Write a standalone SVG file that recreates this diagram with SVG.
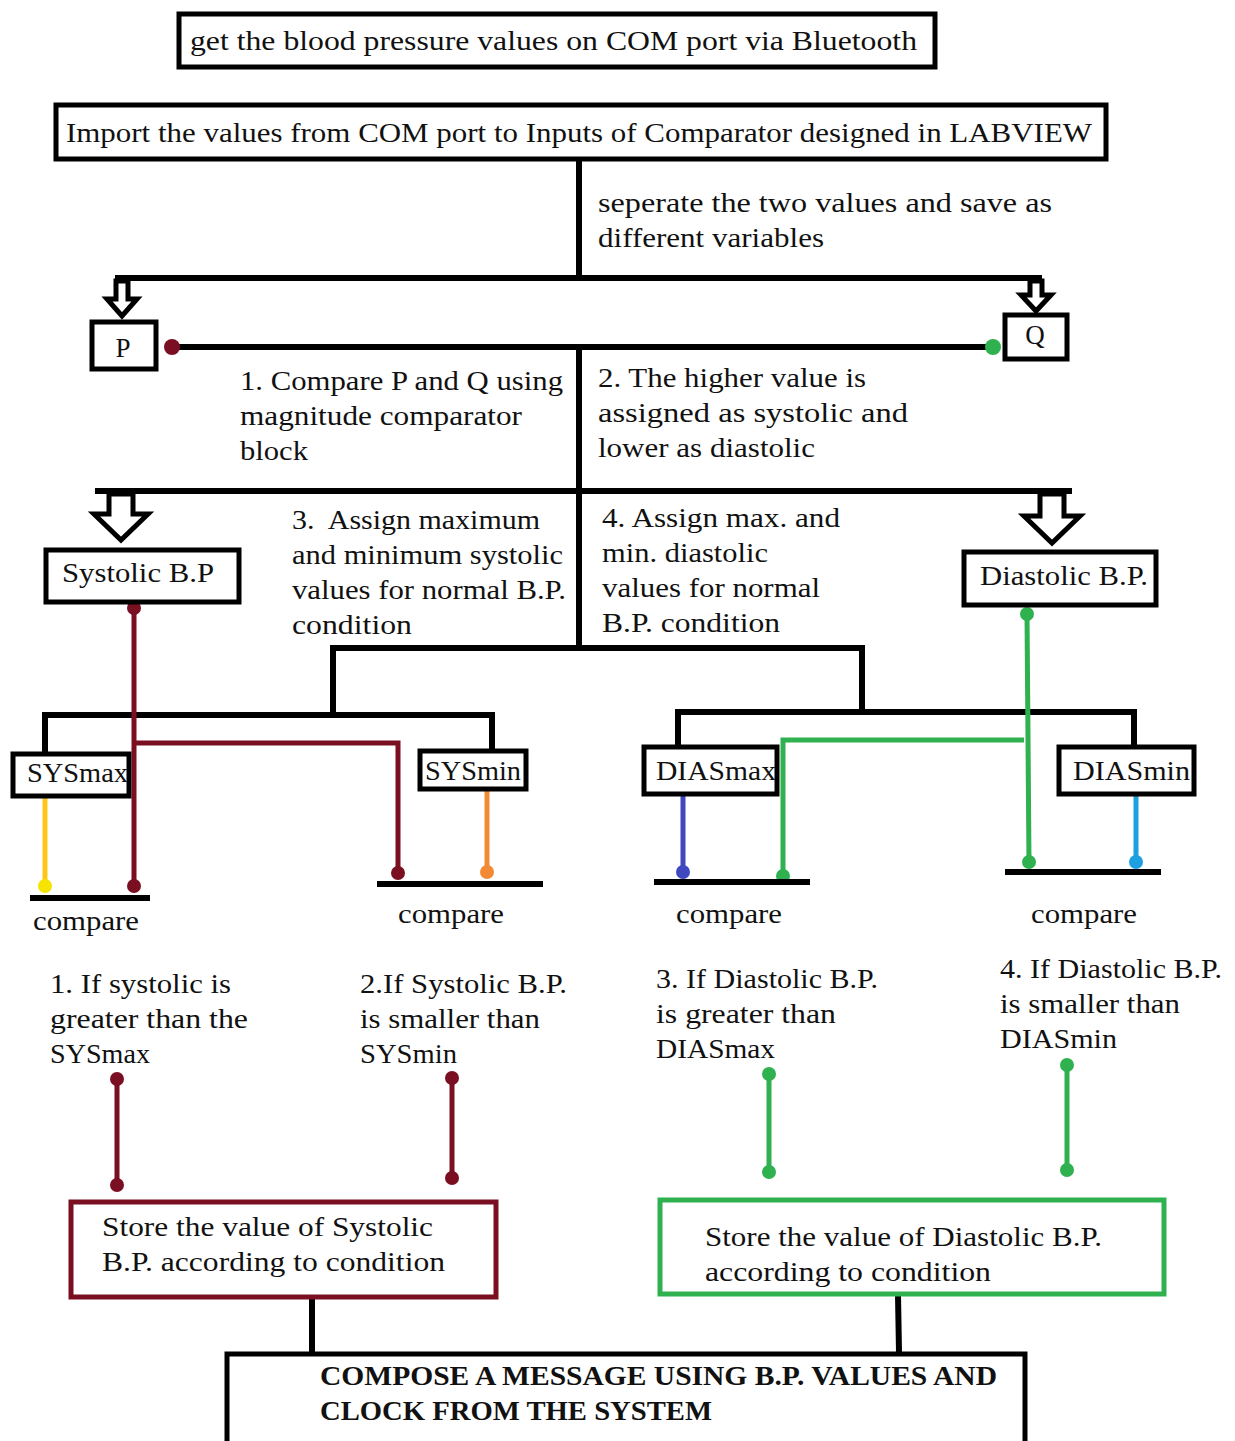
<svg xmlns="http://www.w3.org/2000/svg" width="1235" height="1441" viewBox="0 0 1235 1441">
<style>
text{font-family:"Liberation Serif","Times New Roman",serif;font-size:27px;fill:#111}
.b{font-weight:bold}
.box{fill:#fff;stroke:#000;stroke-width:5}
.k{stroke:#000;stroke-width:6;fill:none}
.arr{fill:#fff;stroke:#000;stroke-width:5;stroke-linejoin:miter}
.r{stroke:#7a0f22;stroke-width:5;fill:none}
.g{stroke:#2fb150;stroke-width:5;fill:none}
.y{stroke:#ffc61a;stroke-width:5}
.o{stroke:#f28a35;stroke-width:5}
.bl{stroke:#3f48c0;stroke-width:5}
.lb{stroke:#1d9fe0;stroke-width:5}
.dr{fill:#7a0f22}.dg{fill:#2fb150}
</style>
<rect width="1235" height="1441" fill="#fff"/>
<g id="connectors">
<line class="k" x1="579" y1="160" x2="579" y2="278"/>
<line class="k" x1="115" y1="278" x2="1042" y2="278"/>
<path class="arr" d="M116,281 V299 H107 L122,316 L137,299 H128 V281 Z"/>
<path class="arr" d="M1030,281 V295 H1021 L1036,311 L1051,295 H1042 V281 Z"/>
<line class="k" x1="172" y1="347" x2="993" y2="347"/>
<circle class="dr" cx="172" cy="347" r="8"/>
<circle class="dg" cx="993" cy="347" r="8"/>
<line class="k" x1="579" y1="347" x2="579" y2="648"/>
<line class="k" x1="95" y1="491" x2="1072" y2="491"/>
<path class="arr" d="M109,494 V514 H94 L121,540 L148,514 H133 V494 Z"/>
<path class="arr" d="M1040,494 V516 H1024 L1052,543 L1080,516 H1064 V494 Z"/>
<polyline class="k" points="333,715 333,648 862,648 862,712"/>
<polyline class="k" points="45,752 45,715 492,715 492,750"/>
<polyline class="k" points="678,745 678,712 1134,712 1134,745"/>
<line class="y" x1="45" y1="797" x2="45" y2="885"/>
<circle fill="#f5e400" cx="45" cy="886" r="7"/>
<line class="o" x1="487" y1="790" x2="487" y2="872"/>
<circle fill="#f28a35" cx="487" cy="872" r="7"/>
<line class="bl" x1="683" y1="795" x2="683" y2="872"/>
<circle fill="#3f48c0" cx="683" cy="872" r="7"/>
<line class="lb" x1="1136" y1="795" x2="1136" y2="862"/>
<circle fill="#1d9fe0" cx="1136" cy="862" r="7"/>
<line class="r" x1="134" y1="606" x2="134" y2="886"/>
<polyline class="r" points="134,743 398,743 398,873"/>
<circle class="dr" cx="134" cy="608" r="7"/>
<circle class="dr" cx="134" cy="886" r="7"/>
<circle class="dr" cx="398" cy="873" r="7"/>
<line class="g" x1="1027" y1="614" x2="1029" y2="862"/>
<polyline class="g" points="1024,740 783,740 783,876"/>
<circle class="dg" cx="1027" cy="614" r="7"/>
<circle class="dg" cx="1029" cy="862" r="7"/>
<circle class="dg" cx="783" cy="876" r="7"/>
<line class="k" x1="30" y1="898" x2="150" y2="898"/>
<line class="k" x1="377" y1="884" x2="543" y2="884"/>
<line class="k" x1="654" y1="882" x2="810" y2="882"/>
<line class="k" x1="1005" y1="872" x2="1161" y2="872"/>
<line class="r" x1="117" y1="1079" x2="117" y2="1185"/>
<circle class="dr" cx="117" cy="1079" r="7"/><circle class="dr" cx="117" cy="1185" r="7"/>
<line class="r" x1="452" y1="1078" x2="452" y2="1178"/>
<circle class="dr" cx="452" cy="1078" r="7"/><circle class="dr" cx="452" cy="1178" r="7"/>
<line class="g" x1="769" y1="1074" x2="769" y2="1172"/>
<circle class="dg" cx="769" cy="1074" r="7"/><circle class="dg" cx="769" cy="1172" r="7"/>
<line class="g" x1="1067" y1="1065" x2="1067" y2="1170"/>
<circle class="dg" cx="1067" cy="1065" r="7"/><circle class="dg" cx="1067" cy="1170" r="7"/>
<line class="k" x1="312" y1="1298" x2="312" y2="1352"/>
<line class="k" x1="898" y1="1295" x2="899" y2="1352"/>
</g>
<g id="labels">
<text x="598" y="212" textLength="454" lengthAdjust="spacingAndGlyphs">seperate the two values and save as</text>
<text x="598" y="247" textLength="226" lengthAdjust="spacingAndGlyphs">different variables</text>
<text x="240" y="390" textLength="323" lengthAdjust="spacingAndGlyphs">1. Compare P and Q using</text>
<text x="240" y="425" textLength="282" lengthAdjust="spacingAndGlyphs">magnitude comparator</text>
<text x="240" y="460" textLength="68" lengthAdjust="spacingAndGlyphs">block</text>
<text x="598" y="387" textLength="268" lengthAdjust="spacingAndGlyphs">2. The higher value is</text>
<text x="598" y="422" textLength="310" lengthAdjust="spacingAndGlyphs">assigned as systolic and</text>
<text x="598" y="457" textLength="217" lengthAdjust="spacingAndGlyphs">lower as diastolic</text>
<text x="292" y="529" textLength="248" lengthAdjust="spacingAndGlyphs" xml:space="preserve">3.  Assign maximum</text>
<text x="292" y="564" textLength="271" lengthAdjust="spacingAndGlyphs">and minimum systolic</text>
<text x="292" y="599" textLength="274" lengthAdjust="spacingAndGlyphs">values for normal B.P.</text>
<text x="292" y="634" textLength="120" lengthAdjust="spacingAndGlyphs">condition</text>
<text x="602" y="527" textLength="238" lengthAdjust="spacingAndGlyphs">4. Assign max. and</text>
<text x="602" y="562" textLength="166" lengthAdjust="spacingAndGlyphs">min. diastolic</text>
<text x="602" y="597" textLength="218" lengthAdjust="spacingAndGlyphs">values for normal</text>
<text x="602" y="632" textLength="178" lengthAdjust="spacingAndGlyphs">B.P. condition</text>
<text x="33" y="930" textLength="106" lengthAdjust="spacingAndGlyphs">compare</text>
<text x="398" y="923" textLength="106" lengthAdjust="spacingAndGlyphs">compare</text>
<text x="676" y="923" textLength="106" lengthAdjust="spacingAndGlyphs">compare</text>
<text x="1031" y="923" textLength="106" lengthAdjust="spacingAndGlyphs">compare</text>
<text x="50" y="993" textLength="181" lengthAdjust="spacingAndGlyphs">1. If systolic is</text>
<text x="50" y="1028" textLength="198" lengthAdjust="spacingAndGlyphs">greater than the</text>
<text x="50" y="1063" textLength="100" lengthAdjust="spacingAndGlyphs">SYSmax</text>
<text x="360" y="993" textLength="207" lengthAdjust="spacingAndGlyphs">2.If Systolic B.P.</text>
<text x="360" y="1028" textLength="180" lengthAdjust="spacingAndGlyphs">is smaller than</text>
<text x="360" y="1063" textLength="97" lengthAdjust="spacingAndGlyphs">SYSmin</text>
<text x="656" y="988" textLength="222" lengthAdjust="spacingAndGlyphs">3. If Diastolic B.P.</text>
<text x="656" y="1023" textLength="180" lengthAdjust="spacingAndGlyphs">is greater than</text>
<text x="656" y="1058" textLength="119" lengthAdjust="spacingAndGlyphs">DIASmax</text>
<text x="1000" y="978" textLength="222" lengthAdjust="spacingAndGlyphs">4. If Diastolic B.P.</text>
<text x="1000" y="1013" textLength="180" lengthAdjust="spacingAndGlyphs">is smaller than</text>
<text x="1000" y="1048" textLength="117" lengthAdjust="spacingAndGlyphs">DIASmin</text>
</g>
<g id="n-bluetooth"><rect class="box" x="179" y="14" width="756" height="53"/><text x="190" y="50" textLength="727" lengthAdjust="spacingAndGlyphs">get the blood pressure values on COM port via Bluetooth</text></g>
<g id="n-import"><rect class="box" x="56" y="105" width="1050" height="54"/><text x="66" y="142" textLength="1026" lengthAdjust="spacingAndGlyphs">Import the values from COM port to Inputs of Comparator designed in LABVIEW</text></g>
<g id="n-p"><rect class="box" x="92" y="322" width="64" height="47"/><text x="123" y="357" text-anchor="middle">P</text></g>
<g id="n-q"><rect class="box" x="1005" y="315" width="62" height="44"/><text x="1035" y="344" text-anchor="middle">Q</text></g>
<g id="n-systolic"><rect class="box" x="46" y="550" width="193" height="52"/><text x="62" y="582" textLength="152" lengthAdjust="spacingAndGlyphs">Systolic B.P</text></g>
<g id="n-diastolic"><rect class="box" x="964" y="552" width="192" height="53"/><text x="980" y="585" textLength="168" lengthAdjust="spacingAndGlyphs">Diastolic B.P.</text></g>
<g id="n-sysmax"><rect class="box" x="13" y="754" width="116" height="42"/><text x="27" y="782" textLength="101" lengthAdjust="spacingAndGlyphs">SYSmax</text></g>
<g id="n-sysmin"><rect class="box" x="420" y="751" width="106" height="38"/><text x="425" y="780" textLength="96" lengthAdjust="spacingAndGlyphs">SYSmin</text></g>
<g id="n-diasmax"><rect class="box" x="644" y="747" width="133" height="47"/><text x="656" y="780" textLength="120" lengthAdjust="spacingAndGlyphs">DIASmax</text></g>
<g id="n-diasmin"><rect class="box" x="1059" y="747" width="135" height="47"/><text x="1073" y="780" textLength="117" lengthAdjust="spacingAndGlyphs">DIASmin</text></g>
<g id="n-store-sys"><rect x="71" y="1202" width="425" height="95" fill="#fff" stroke="#7a0f22" stroke-width="5"/><text x="102" y="1236" textLength="331" lengthAdjust="spacingAndGlyphs">Store the value of Systolic</text><text x="102" y="1271" textLength="343" lengthAdjust="spacingAndGlyphs">B.P. according to condition</text></g>
<g id="n-store-dia"><rect x="660" y="1200" width="504" height="94" fill="#fff" stroke="#2fb150" stroke-width="5"/><text x="705" y="1246" textLength="397" lengthAdjust="spacingAndGlyphs">Store the value of Diastolic B.P.</text><text x="705" y="1281" textLength="286" lengthAdjust="spacingAndGlyphs">according to condition</text></g>
<g id="n-compose"><rect class="box" x="227" y="1354" width="798" height="92"/><text class="b" x="320" y="1385" textLength="677" lengthAdjust="spacingAndGlyphs">COMPOSE A MESSAGE USING B.P. VALUES AND</text><text class="b" x="320" y="1420" textLength="392" lengthAdjust="spacingAndGlyphs">CLOCK FROM THE SYSTEM</text></g>
</svg>
